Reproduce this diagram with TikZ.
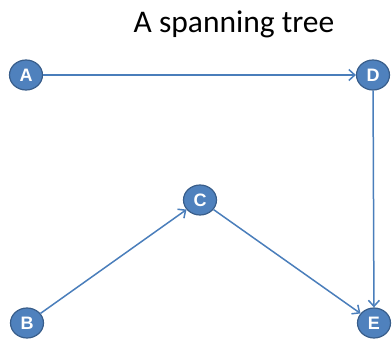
\documentclass[tikz,border=0pt]{standalone}
\usepackage{fontspec}
\setmainfont{Carlito}
\newfontfamily\nodefont{Liberation Sans}
\usetikzlibrary{arrows.meta,shapes.geometric}
\definecolor{vfill}{HTML}{4F81BD}
\definecolor{vline}{HTML}{385D8A}
\definecolor{eline}{HTML}{4A7EBB}
\tikzset{
  vertex/.style={ellipse, draw=vline, line width=1.2pt, fill=vfill,
    minimum width=33pt, minimum height=30pt, inner sep=0pt,
    text=white, font=\nodefont\bfseries\fontsize{18}{18}\selectfont},
  edge/.style={draw=eline, line width=1.5pt,
    -{Straight Barb[length=6pt,width=11pt,line width=1.5pt]}}
}
\begin{document}
\begin{tikzpicture}[x=1pt,y=-1pt]
\useasboundingbox (0,0) rectangle (392,340);
\node[font=\fontsize{31.5}{34}\selectfont] (title) at (234,24) {A spanning tree};
\node[vertex] (A) at (26,75) {A};
\node[vertex] (D) at (373,75) {D};
\node[vertex] (C) at (200,200) {C};
\node[vertex] (B) at (27,323) {B};
\node[vertex] (E) at (374,323) {E};
\draw[edge] (A) -- (D);
\draw[edge] (D) -- (E);
\draw[edge] (B) -- (C);
\draw[edge] (C) -- (E);
\end{tikzpicture}
\end{document}
